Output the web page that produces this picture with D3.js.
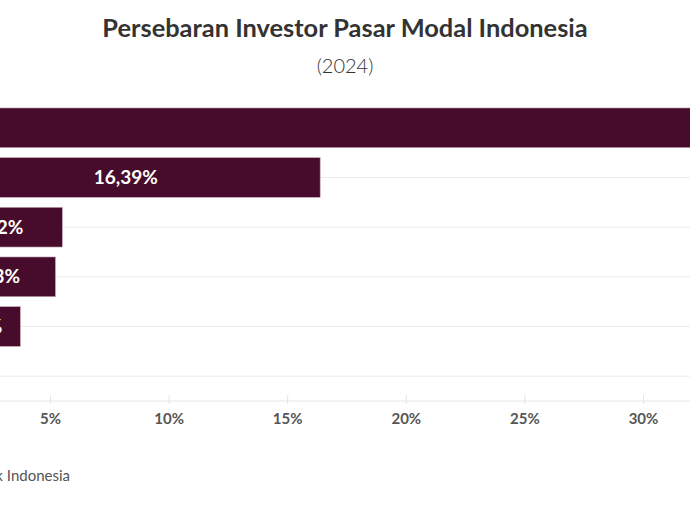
<!DOCTYPE html>
<html>
<head>
<meta charset="utf-8">
<script src="https://cdn.jsdelivr.net/npm/d3@7"></script>
<style>
  html, body { margin: 0; padding: 0; background: #fff; overflow: hidden; }
  svg { display: block; font-family: Lato, "Noto Sans", sans-serif; }
</style>
</head>
<body>
<svg id="chart" width="690" height="513"></svg>
<script>
const categories = ["Jawa", "Sumatera", "Kalimantan", "Sulawesi", "Bali, NTB & NTT", "Maluku & Papua"];
const values = [67.91, 16.39, 5.52, 5.23, 3.75, 1.20];
const tickValues = [0, 5, 10, 15, 20, 25, 30, 35, 40, 45, 50, 55, 60, 65, 70];
const titleText = "Persebaran Investor Pasar Modal Indonesia";
const subtitleText = "(2024)";
const sourceText = "Sumber: Kustodian Sentral Efek Indonesia";

const data = categories.map((c, i) => ({ cat: c, val: values[i] }));
const svg = d3.select("#chart");
const W = 690;

const x = d3.scaleLinear().domain([0, 70]).range([-68.6, -68.6 + 70 * 23.72]);
const y = d3.scaleBand().domain(categories).range([103, 401]).paddingInner(0.2).paddingOuter(0.1);

// title
svg.append("text").attr("x", W / 2).attr("y", 37).attr("text-anchor", "middle")
  .attr("font-size", 25.4).attr("font-weight", 700).attr("fill", "#333").text(titleText);
svg.append("text").attr("x", W / 2).attr("y", 73).attr("text-anchor", "middle")
  .attr("font-size", 20).attr("font-weight", 300).attr("fill", "#333").text(subtitleText);

// horizontal gridlines at category centres
svg.append("g").selectAll("line").data(categories).join("line")
  .attr("x1", x(0)).attr("x2", W + 10)
  .attr("y1", d => y(d) + y.bandwidth() / 2).attr("y2", d => y(d) + y.bandwidth() / 2)
  .attr("stroke", "#ececec").attr("stroke-width", 1);

// x axis
const xAxis = d3.axisBottom(x).tickValues(tickValues).tickSize(0).tickPadding(12)
  .tickFormat(d => d + "%");
const gx = svg.append("g").attr("transform", "translate(0,401)").call(xAxis);
gx.select(".domain").remove();
gx.selectAll("text").attr("font-size", 15).attr("font-weight", 700).attr("fill", "#555")
  .attr("font-family", "Lato, sans-serif");
gx.selectAll(".tick").append("line").attr("y1", -6).attr("y2", 3).attr("stroke", "#e4e4e4");
svg.append("line").attr("x1", x(0)).attr("x2", W + 10).attr("y1", 401).attr("y2", 401)
  .attr("stroke", "#e6e6e6");

// bars
svg.append("g").selectAll("rect").data(data).join("rect")
  .attr("x", x(0)).attr("y", d => y(d.cat))
  .attr("width", d => x(d.val) - x(0)).attr("height", y.bandwidth())
  .attr("fill", "#470c2b").attr("stroke", "#c9a9b9").attr("stroke-width", 0.6);

// bar labels
svg.append("g").selectAll("text").data(data).join("text")
  .attr("x", d => (x(0) + x(d.val)) / 2)
  .attr("y", d => y(d.cat) + y.bandwidth() / 2)
  .attr("dy", "0.35em").attr("text-anchor", "middle")
  .attr("font-size", 19).attr("font-weight", 700).attr("fill", "#fff")
  .text(d => d.val.toFixed(2).replace(".", ",") + "%");

// category labels (left of the zero line, outside the visible window)
svg.append("g").selectAll("text").data(data).join("text")
  .attr("x", x(0) - 8).attr("y", d => y(d.cat) + y.bandwidth() / 2)
  .attr("dy", "0.35em").attr("text-anchor", "end")
  .attr("font-size", 15).attr("fill", "#333").text(d => d.cat);

// source
svg.append("text").attr("x", 70).attr("y", 481).attr("text-anchor", "end").attr("font-size", 15)
  .attr("fill", "#555").text(sourceText);
</script>
</body>
</html>
